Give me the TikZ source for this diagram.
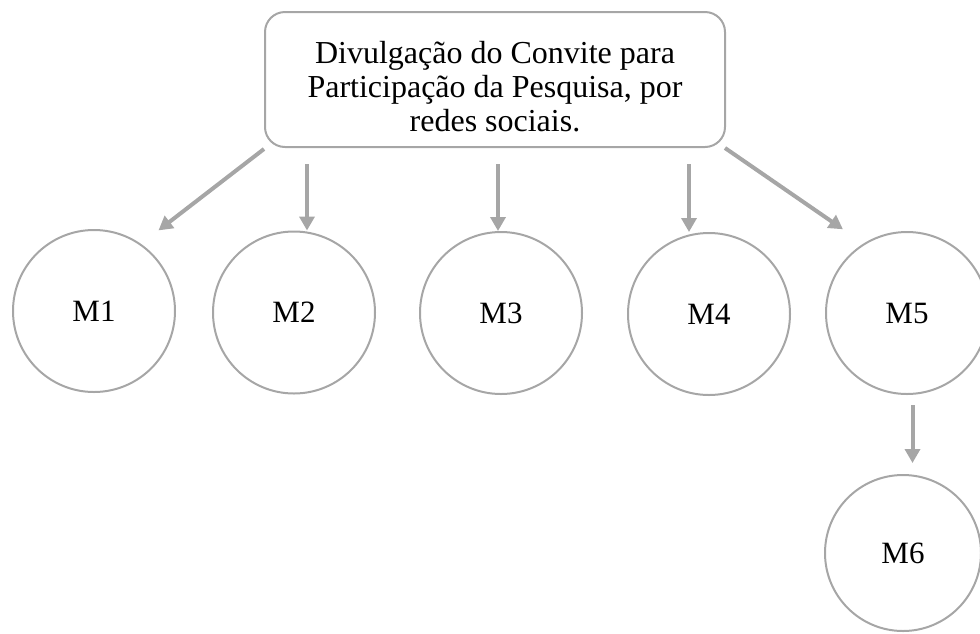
\documentclass[tikz,border=0pt]{standalone}
\usepackage{fontspec}
\setmainfont{Liberation Serif}
\usetikzlibrary{arrows.meta}
\definecolor{lg}{HTML}{A6A6A6}
\begin{document}
\begin{tikzpicture}[x=1pt,y=-1pt,
  boxnode/.style={draw=lg,line width=2pt,rounded corners=20pt,minimum width=460pt,minimum height=135pt,inner sep=0pt,align=center,font=\fontsize{32pt}{33.8pt}\selectfont},
  mnode/.style={circle,draw=lg,line width=2pt,minimum size=162pt,inner sep=0pt,font=\fontsize{31pt}{36pt}\selectfont},
  arr/.style={draw=lg,line width=4pt,-{Triangle[length=14pt,width=15pt]}}]
\useasboundingbox (0,0) rectangle (980,633);
\node[boxnode] (box) at (495,79.5) {\rule{0pt}{37pt}Divulgação do Convite para\\Participação da Pesquisa, por\\redes sociais.};
\node[mnode] (M1) at (94,311) {M1};
\node[mnode] (M2) at (294,312.5) {M2};
\node[mnode] (M3) at (501,313) {M3};
\node[mnode] (M4) at (709,314) {M4};
\node[mnode] (M5) at (907,313) {M5};
\node[mnode,minimum size=156pt] (M6) at (903,553) {M6};
\coordinate (s1) at (264,149);
\coordinate (s2) at (307,164);
\coordinate (s3) at (498,164);
\coordinate (s4) at (689,164);
\coordinate (s5) at (725,148);
\coordinate (s6) at (912.5,405);
\draw[arr,shorten >=22pt] (s1) -- (M1.55.5);
\draw[arr] (s2) -- (s2 |- M2.north);
\draw[arr] (s3) -- (s3 |- M3.north);
\draw[arr] (s4) -- (s4 |- M4.north);
\draw[arr,shorten >=25pt] (s5) -- (M5.122.3);
\draw[arr,shorten >=11pt] (s6) -- (s6 |- M6.north);
\end{tikzpicture}
\end{document}
